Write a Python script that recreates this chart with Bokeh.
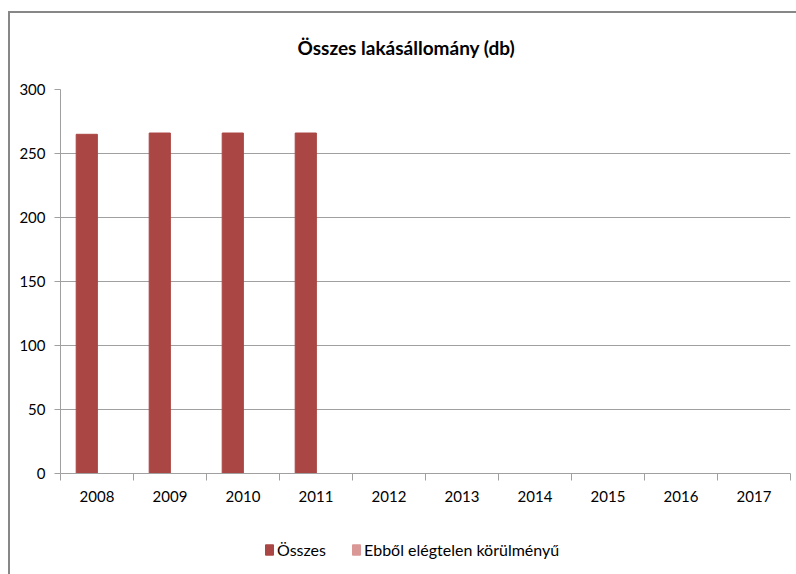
from bokeh.plotting import figure
from bokeh.models import Range1d, FixedTicker, Legend, LegendItem, ColumnDataSource, Title
from bokeh.layouts import column
from bokeh.embed import file_html
from bokeh.resources import INLINE

years = ["2008", "2009", "2010", "2011", "2012", "2013", "2014", "2015", "2016", "2017"]
osszes = [265, 266, 266, 266, None, None, None, None, None, None]
elegtelen = [None, None, None, None, None, None, None, None, None, None]
y_ticks = [0, 50, 100, 150, 200, 250, 300]
series_names = ["Összes", "Ebből elégtelen körülményű"]
colors = ["#AA4643", "#D99795"]

FONT = "Lato"
n = len(years)
idx = list(range(n))

src = ColumnDataSource(dict(
    x1=[i + 0.5 - 0.14 for i in idx],
    x2=[i + 0.5 + 0.14 for i in idx],
    a=[float("nan") if v is None else v for v in osszes],
    b=[float("nan") if v is None else v for v in elegtelen],
))

p = figure(width=786, height=500, output_backend="svg", toolbar_location=None,
           x_range=Range1d(0, n), y_range=Range1d(0, 300),
           min_border_left=50, min_border_right=6, min_border_top=76, min_border_bottom=40)
p.outline_line_color = None

p.vbar(x="x1", top="a", width=0.29, source=src, fill_color=colors[0], line_color=colors[0])
p.vbar(x="x2", top="b", width=0.29, source=src, fill_color=colors[1], line_color=colors[1])

p.title.text = "Összes lakásállomány (db)"
p.title.align = "left"
p.title.offset = 237
p.title.text_font = FONT
p.title.text_font_size = "19px"
p.title.text_font_style = "bold"
p.title.text_color = "#000000"
p.title.standoff = 0

# blank spacer between the title and the plot area
p.add_layout(Title(text=" ", text_font=FONT, text_font_size="19px", standoff=6), "above")

xa = p.xaxis[0]
xa.ticker = FixedTicker(ticks=[i + 0.5 for i in idx], minor_ticks=list(range(n + 1)))
xa.major_label_overrides = {i + 0.5: years[i] for i in idx}
xa.major_tick_out = 0
xa.major_tick_in = 0
xa.minor_tick_out = 7
xa.minor_tick_in = 0
xa.minor_tick_line_color = "#a0a0a0"
xa.axis_line_color = "#a0a0a0"
xa.major_label_text_font = FONT
xa.major_label_text_font_size = "15px"
xa.major_label_text_color = "#000000"
xa.major_label_standoff = 10

ya = p.yaxis[0]
ya.ticker = FixedTicker(ticks=y_ticks)
ya.major_tick_out = 6
ya.major_tick_in = 0
ya.minor_tick_out = 0
ya.minor_tick_in = 0
ya.major_tick_line_color = "#a0a0a0"
ya.axis_line_color = "#a0a0a0"
ya.major_label_text_font = FONT
ya.major_label_text_font_size = "15px"
ya.major_label_text_color = "#000000"
ya.major_label_standoff = 9

p.xgrid.grid_line_color = None
p.ygrid.grid_line_color = "#a0a0a0"

# legend strip below the chart (same series, drawn out of view)
p2 = figure(width=786, height=61, output_backend="svg", toolbar_location=None,
            x_range=Range1d(0, n), y_range=Range1d(1000, 2000),
            x_axis_location=None, y_axis_location=None, min_border=0)
p2.outline_line_color = None
p2.grid.grid_line_color = None
l1 = p2.vbar(x="x1", top="a", width=0.29, source=src, fill_color=colors[0], line_color=colors[0])
l2 = p2.vbar(x="x2", top="b", width=0.29, source=src, fill_color=colors[1], line_color=colors[1])

legend = Legend(items=[LegendItem(label=series_names[0], renderers=[l1]),
                       LegendItem(label=series_names[1], renderers=[l2])],
                orientation="horizontal", location=(204, 15),
                glyph_width=10, glyph_height=13, label_text_font=FONT,
                label_text_font_size="16px", label_text_color="#000000",
                label_standoff=3, spacing=25,
                border_line_color=None, background_fill_alpha=0, padding=0, margin=0)
p2.add_layout(legend, "center")

layout = column(p, p2, spacing=0)
layout.styles = {"border-top": "2px solid #878787", "border-left": "2px solid #878787",
                 "margin-top": "11px", "margin-left": "8px"}

open("out.html", "w").write(file_html(layout, INLINE))
